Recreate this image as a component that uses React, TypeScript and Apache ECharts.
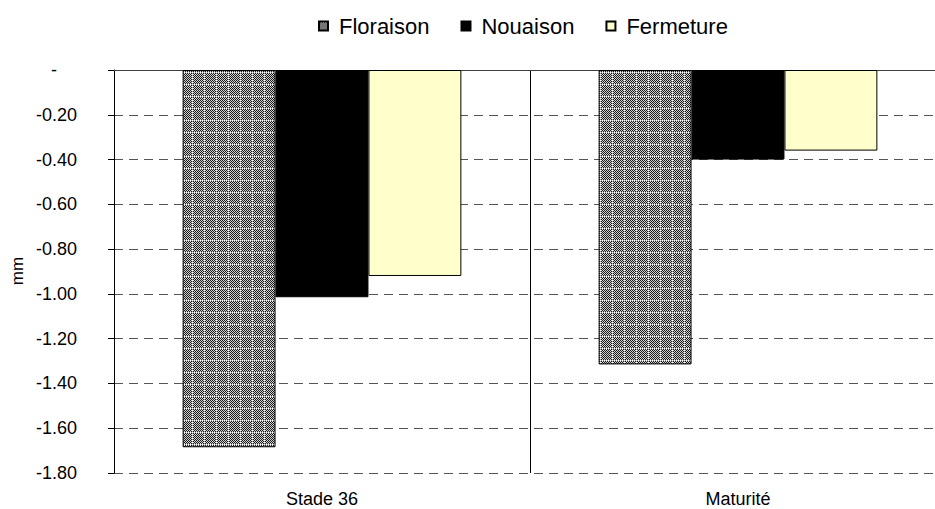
import React, { useEffect, useRef } from 'react';
import * as echarts from 'echarts';

const categories = ['Stade 36', 'Maturité'];
const seriesNames = ['Floraison', 'Nouaison', 'Fermeture'];
const floraison = [-1.685, -1.315];
const nouaison = [-1.015, -0.4];
const fermeture = [-0.92, -0.36];
const yMin = -1.8;
const yMax = 0;
const yStep = 0.2;
const yAxisTitle = 'mm';

const FONT = 'Liberation Sans, Arial, sans-serif';

function makePattern(): HTMLCanvasElement {
  const c = document.createElement('canvas');
  c.width = 12;
  c.height = 12;
  const ctx = c.getContext('2d')!;
  for (let y = 0; y < 12; y++) {
    for (let x = 0; x < 12; x++) {
      let col: string;
      if (y === 0 || x === 0) col = (x + y) % 2 === 0 ? '#ffffff' : '#9a9a9a';
      else col = (x + y) % 2 === 0 ? '#1a1a1a' : '#d0d0d0';
      ctx.fillStyle = col;
      ctx.fillRect(x, y, 1, 1);
    }
  }
  return c;
}

export default function App() {
  const ref = useRef<HTMLDivElement>(null);
  useEffect(() => {
    if (!ref.current) return;
    const chart = echarts.init(ref.current, undefined, { renderer: 'svg' });
    const pattern = { image: makePattern(), repeat: 'repeat' } as any;
    const values = [floraison, nouaison, fermeture];
    const colors = [pattern, '#000000', '#FFFFCC'];
    chart.setOption({
      animation: false,
      backgroundColor: '#ffffff',
      textStyle: { fontFamily: FONT },
      legend: {
        data: seriesNames,
        left: 313,
        top: 10,
        icon: 'rect',
        itemWidth: 9,
        itemHeight: 9,
        itemGap: 31,
        textStyle: { fontSize: 22, color: '#000', fontFamily: FONT, padding: [0, 0, 0, 6] },
      },
      grid: { left: 114, right: 0, top: 70, bottom: 36, containLabel: false },
      xAxis: [
        {
          type: 'category',
          data: categories,
          position: 'bottom',
          axisLine: { show: false, onZero: false },
          axisTick: { show: false },
          axisLabel: { color: '#000', fontSize: 18, fontFamily: FONT, margin: 17 },
          splitLine: { show: true, lineStyle: { color: '#000', width: 1, type: 'solid' } },
        },
        {
          type: 'category',
          data: categories,
          position: 'top',
          axisLine: { show: true, onZero: false, lineStyle: { color: '#404040', width: 1 } },
          axisTick: { show: false },
          axisLabel: { show: false },
          splitLine: { show: false },
        },
      ],
      yAxis: {
        type: 'value',
        min: yMin,
        max: yMax,
        interval: yStep,
        axisLine: { show: true, lineStyle: { color: '#000', width: 1 } },
        axisTick: { show: true, length: 6, lineStyle: { color: '#000' } },
        axisLabel: {
          color: '#000',
          fontSize: 18,
          fontFamily: FONT,
          margin: 37,
          formatter: (v: number) => (Math.abs(v) < 1e-9 ? '{d|-}' : v.toFixed(2)),
          rich: { d: { fontSize: 18, fontFamily: FONT, color: '#000', padding: [0, 20, 0, 0] } },
        },
        splitLine: { show: true, lineStyle: { color: '#555555', width: 1, type: [9, 6] } },
      },
      graphic: [
        {
          type: 'text',
          x: 17,
          y: 271,
          rotation: Math.PI / 2,
          style: {
            text: yAxisTitle,
            font: `17px ${FONT}`,
            fill: '#000',
            align: 'center',
            verticalAlign: 'middle',
          },
        },
      ],
      series: seriesNames.map((name, i) => ({
        name,
        type: 'bar',
        xAxisIndex: 0,
        data: values[i],
        barGap: '0%',
        barCategoryGap: '33%',
        itemStyle: { color: colors[i], borderColor: '#000', borderWidth: 1 },
      })),
    });
    return () => chart.dispose();
  }, []);
  return (
    <div style={{ position: 'fixed', left: 0, top: 0, width: 935, height: 509, overflow: 'hidden', background: '#fff' }}>
      <div ref={ref} style={{ width: 946, height: 509 }} />
    </div>
  );
}
